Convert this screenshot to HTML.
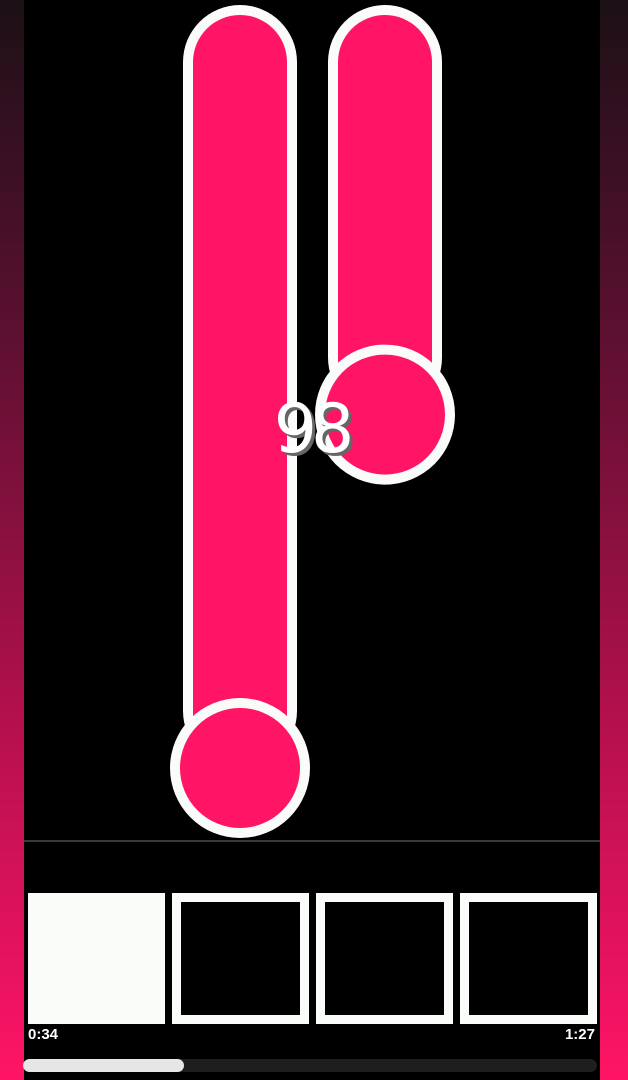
<!DOCTYPE html>
<html><head><meta charset="utf-8"><style>
html,body{margin:0;padding:0;width:628px;height:1080px;overflow:hidden;background:#000;font-family:"Liberation Sans",sans-serif}
.side{position:absolute;top:0;width:24px;height:1080px;background:linear-gradient(#1c1016 0%,#5a1030 30%,#b0104c 65%,#ff1466 100%)}
</style></head><body>
<div class="side" style="left:0"></div>
<div class="side" style="left:600px;width:28px"></div>
<svg id="chart" width="628" height="1080" style="position:absolute;left:0;top:0">
  <line x1="24" y1="841" x2="600" y2="841" stroke="#3a3a3a" stroke-width="2"/>
</svg>
<div style="position:absolute;left:28px;top:893px;width:137px;height:131px;background:#fafcfa"></div>
<div style="position:absolute;left:172px;top:893px;width:119px;height:113px;border:9px solid #fafcfa;background:#000"></div>
<div style="position:absolute;left:316px;top:893px;width:119px;height:113px;border:9px solid #fafcfa;background:#000"></div>
<div style="position:absolute;left:460px;top:893px;width:119px;height:113px;border:9px solid #fafcfa;background:#000"></div>
<div style="position:absolute;left:28px;top:1026px;color:#fff;font-weight:bold;font-size:15px">0:34</div>
<div style="position:absolute;right:33px;top:1026px;color:#fff;font-weight:bold;font-size:15px">1:27</div>
<div style="position:absolute;left:23px;top:1059px;width:574px;height:13px;border-radius:7px;background:#1e1e1e"></div>
<div style="position:absolute;left:23px;top:1059px;width:161px;height:13px;border-radius:7px;background:#e6e6e6"></div>
<script>
const categories = ["left", "right"];
const levels = [0, 51];
const centers = [240, 385];
const labelValue = "98";
const NS = "http://www.w3.org/2000/svg";
const svg = document.getElementById("chart");
function yScale(v){ return 768 - v * (768 - 75) / 100; }
function mk(tag, attrs){ const e = document.createElementNS(NS, tag); for (const k in attrs) e.setAttribute(k, attrs[k]); svg.appendChild(e); return e; }
categories.forEach((c, i) => {
  const cx = centers[i], by = yScale(levels[i]);
  const o = mk("rect", {x: cx-57, y: 5, width: 114, height: by-5, rx: 57, fill: "#fafcfa"});
  
  
  const t = mk("rect", {x: cx-47, y: 15, width: 94, height: by-15, rx: 47, fill: "#ff1466"});
  
  
  const ob = mk("circle", {cx: cx, cy: by, r: 70, fill: "#fafcfa"});
  
  
  const b = mk("circle", {cx: cx, cy: by, r: 60, fill: "#ff1466"});
  
  
});
const sh = mk("text", {x: 314, y: 455, "text-anchor": "middle", "font-size": 68, fill: "#666", "font-family": "DejaVu Sans, sans-serif", "letter-spacing": "-6"});
sh.textContent = labelValue;


const tx = mk("text", {x: 311, y: 452, "text-anchor": "middle", "font-size": 68, fill: "#fff", "font-family": "DejaVu Sans, sans-serif", "letter-spacing": "-6"});
tx.textContent = labelValue;


</script>
</body></html>
